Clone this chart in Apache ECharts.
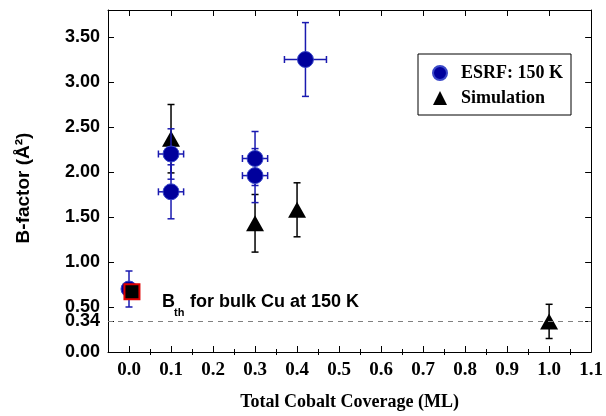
<!DOCTYPE html>
<html>
<head>
<meta charset="utf-8">
<script src="https://cdn.jsdelivr.net/npm/echarts@6/dist/echarts.min.js"></script>
<style>
  html, body { margin: 0; padding: 0; background: #fff; }
  #chart { width: 606px; height: 416px; }
</style>
</head>
<body>
<div id="chart"></div>
<script>
// tick values
const xTicks = [0, 0.1, 0.2, 0.3, 0.4, 0.5, 0.6, 0.7, 0.8, 0.9, 1.0, 1.1];
const xMinorTicks = [0.05, 0.15, 0.25, 0.35, 0.45, 0.55, 0.65, 0.75, 0.85, 0.95, 1.05];
const yTicks = [0, 0.34, 0.5, 1, 1.5, 2, 2.5, 3, 3.5];

// ESRF: 150 K (measured)
const esrfX = [0.0, 0.1, 0.1, 0.3, 0.3, 0.42];
const esrfY = [0.70, 2.20, 1.78, 2.15, 1.96, 3.25];
const esrfXErr = [0, 0.03, 0.03, 0.03, 0.03, 0.05];
const esrfYErr = [0.2, 0.28, 0.3, 0.3, 0.3, 0.41];

// Simulation
const simX = [0.1, 0.3, 0.4, 1.0];
const simY = [2.37, 1.43, 1.58, 0.34];
const simYErr = [0.38, 0.32, 0.3, 0.19];

// bulk point + thermal B for bulk Cu
const bulkX = [0.007];
const bulkY = [0.67];
const bulkLine = 0.34;

const serif = '"Liberation Serif", "Times New Roman", serif';
const sans = '"Liberation Sans", Arial, sans-serif';

function errorBars(color) {
  return function (params, api) {
    const x = api.value(0), y = api.value(1), ex = api.value(2), ey = api.value(3);
    const c = api.coord([x, y]);
    const t = api.coord([x, y + ey]);
    const b = api.coord([x, y - ey]);
    const cap = 3.5;
    const st = { stroke: color, lineWidth: 1.5 };
    const ln = (x1, y1, x2, y2) => ({ type: 'line', shape: { x1, y1, x2, y2 }, style: st });
    const kids = [
      ln(c[0], t[1], c[0], b[1]),
      ln(c[0] - cap, t[1], c[0] + cap, t[1]),
      ln(c[0] - cap, b[1], c[0] + cap, b[1])
    ];
    if (ex > 0) {
      const l = api.coord([x - ex, y]);
      const r = api.coord([x + ex, y]);
      kids.push(ln(l[0], c[1], r[0], c[1]));
      kids.push(ln(l[0], c[1] - cap, l[0], c[1] + cap));
      kids.push(ln(r[0], c[1] - cap, r[0], c[1] + cap));
    }
    return { type: 'group', children: kids };
  };
}

const chart = echarts.init(document.getElementById('chart'));

const xBase = { type: 'value', min: -0.05, max: 1.1, splitLine: { show: false } };
const yBase = { type: 'value', min: 0, max: 3.8, splitLine: { show: false } };

chart.setOption({
  animation: false,
  grid: { left: 108, right: 13, top: 10, bottom: 63 },
  legend: {
    orient: 'vertical',
    left: 418,
    top: 54,
    padding: [10, 8, 8, 14],
    borderColor: '#000',
    borderWidth: 1,
    itemWidth: 14,
    itemHeight: 14,
    itemGap: 7,
    data: [
      { name: 'ESRF: 150 K', icon: 'circle' },
      { name: 'Simulation', icon: 'triangle' }
    ],
    textStyle: { fontFamily: serif, fontWeight: 'bold', fontSize: 18, color: '#000', padding: [0, 0, 0, 9] }
  },
  xAxis: [
    Object.assign({}, xBase, {
      position: 'bottom',
      name: 'Total Cobalt Coverage (ML)',
      nameLocation: 'middle',
      nameGap: 41,
      nameTextStyle: { fontFamily: serif, fontWeight: 'bold', fontSize: 18, color: '#000' },
      axisLine: { show: true, onZero: false, lineStyle: { color: '#000', width: 1 } },
      axisTick: { show: true, inside: true, length: 6, customValues: xTicks, lineStyle: { color: '#000' } },
      axisLabel: {
        customValues: xTicks, margin: 9,
        formatter: v => v.toFixed(1),
        fontFamily: serif, fontWeight: 'bold', fontSize: 19, color: '#000'
      }
    }),
    Object.assign({}, xBase, {
      position: 'bottom',
      axisLine: { show: false },
      axisTick: { show: true, inside: true, length: 3, customValues: xMinorTicks, lineStyle: { color: '#000' } },
      axisLabel: { show: false }
    }),
    Object.assign({}, xBase, {
      position: 'top',
      axisLine: { show: true, onZero: false, lineStyle: { color: '#000', width: 1 } },
      axisTick: { show: true, inside: true, length: 6, customValues: xTicks, lineStyle: { color: '#000' } },
      axisLabel: { show: false }
    }),
    Object.assign({}, xBase, {
      position: 'top',
      axisLine: { show: false },
      axisTick: { show: true, inside: true, length: 3, customValues: xMinorTicks, lineStyle: { color: '#000' } },
      axisLabel: { show: false }
    })
  ],
  yAxis: [
    Object.assign({}, yBase, {
      position: 'left',
      name: 'B-factor (Å²)',
      nameLocation: 'middle',
      nameGap: 75,
      nameTextStyle: { fontFamily: sans, fontWeight: 'bold', fontSize: 19, color: '#000', padding: [0, 0, 0, -14] },
      axisLine: { show: true, onZero: false, lineStyle: { color: '#000', width: 1 } },
      axisTick: { show: true, inside: true, length: 6, customValues: yTicks, lineStyle: { color: '#000' } },
      axisLabel: {
        customValues: yTicks, margin: 8,
        formatter: v => v.toFixed(2),
        fontFamily: sans, fontWeight: 'bold', fontSize: 18, color: '#000'
      }
    }),
    Object.assign({}, yBase, {
      position: 'right',
      axisLine: { show: true, onZero: false, lineStyle: { color: '#000', width: 1 } },
      axisTick: { show: true, inside: true, length: 6, customValues: yTicks, lineStyle: { color: '#000' } },
      axisLabel: { show: false }
    })
  ],
  graphic: [
    { type: 'text', left: 162, top: 293, style: { text: 'B', font: 'bold 18px ' + sans, fill: '#000' } },
    { type: 'text', left: 174, top: 307, style: { text: 'th', font: 'bold 11px ' + sans, fill: '#000' } },
    { type: 'text', left: 190, top: 293, style: { text: 'for bulk Cu at 150 K', font: 'bold 18px ' + sans, fill: '#000' } }
  ],
  series: [
    {
      type: 'custom',
      name: 'simErr',
      renderItem: errorBars('#000'),
      encode: { x: 0, y: 1 },
      data: simX.map((x, i) => [x, simY[i], 0, simYErr[i]]),
      z: 2
    },
    {
      type: 'scatter',
      name: 'Simulation',
      symbol: 'triangle',
      symbolSize: [18, 16],
      itemStyle: { color: '#000', opacity: 1 },
      data: simX.map((x, i) => [x, simY[i]]),
      markLine: {
        silent: true,
        symbol: 'none',
        label: { show: false },
        lineStyle: { color: '#808080', type: [5, 5], width: 1 },
        data: [{ yAxis: bulkLine }]
      },
      z: 3
    },
    {
      type: 'custom',
      name: 'esrfErr',
      renderItem: errorBars('#1a1ab0'),
      encode: { x: 0, y: 1 },
      data: esrfX.map((x, i) => [x, esrfY[i], esrfXErr[i], esrfYErr[i]]),
      z: 4
    },
    {
      type: 'scatter',
      name: 'ESRF: 150 K',
      symbol: 'circle',
      symbolSize: 16,
      itemStyle: { color: '#00009c', borderColor: '#3a48c8', borderWidth: 1, opacity: 1 },
      data: esrfX.map((x, i) => [x, esrfY[i]]),
      z: 5
    },
    {
      type: 'scatter',
      name: 'bulk',
      symbol: 'rect',
      symbolSize: 15,
      itemStyle: { color: '#000', borderColor: '#e00000', borderWidth: 2, opacity: 1 },
      data: bulkX.map((x, i) => [x, bulkY[i]]),
      z: 6
    }
  ]
});
</script>
</body>
</html>
